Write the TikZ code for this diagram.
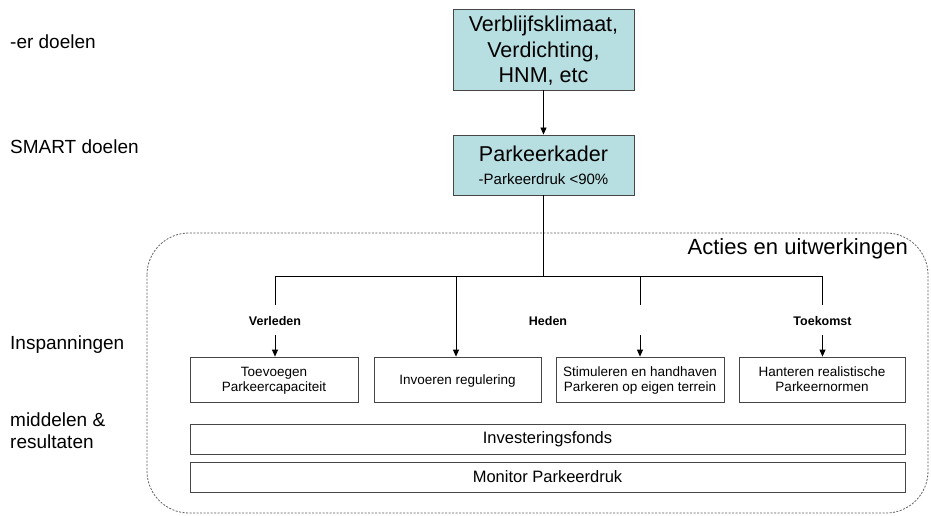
\documentclass[tikz,border=0pt]{standalone}
\usepackage{fontspec}
\setmainfont{Liberation Sans}
\usetikzlibrary{arrows.meta}
\definecolor{boxfill}{RGB}{183,222,225}
\definecolor{edge}{RGB}{70,70,70}
\definecolor{dashgray}{RGB}{95,95,95}
\begin{document}
\begin{tikzpicture}[x=1pt,y=-1pt,
 bigbox/.style={draw=edge,fill=boxfill,line width=0.9pt,inner sep=0pt,align=center,minimum width=181pt},
 smallbox/.style={draw=edge,line width=0.8pt,inner sep=0pt,align=center,minimum height=45pt,text depth=0pt,font=\fontsize{13.5}{15}\selectfont},
 widebox/.style={draw=edge,line width=0.8pt,inner sep=0pt,minimum width=715pt,minimum height=30pt,font=\fontsize{16.5}{18}\selectfont},
 lefttxt/.style={anchor=west,inner sep=0pt,align=left,font=\fontsize{19}{22}\selectfont},
 phase/.style={inner sep=0pt,font=\bfseries\fontsize{12.5}{14}\selectfont},
 conn/.style={draw=black,line width=0.8pt},
 arr/.style={conn,-{Triangle[length=7pt,width=6pt]}}
]
\useasboundingbox (0,0) rectangle (931,515);
\fill[white] (0,0) rectangle (931,515);

% dashed frame
\draw[dashgray,line width=0.8pt,dash pattern=on 2pt off 1.5pt,rounded corners=42pt] (147,233) rectangle (928,513);
\node[anchor=east,inner sep=0pt,font=\fontsize{22}{25}\selectfont] (acties) at (908,249) {Acties en uitwerkingen};

% left labels
\node[lefttxt] (l1) at (10,42) {-er doelen};
\node[lefttxt] (l2) at (10,147) {SMART doelen};
\node[lefttxt] (l3) at (10,345) {Inspanningen};
\node[lefttxt] (l4) at (10,431) {middelen \&\\resultaten};

% top boxes
\node[bigbox,minimum height=81pt,text depth=0pt,font=\fontsize{21.5}{25.5}\selectfont] (top) at (543.5,49.5) {Verblijfsklimaat,\\Verdichting,\\HNM, etc};
\node[bigbox,minimum height=60pt,font=\fontsize{15}{23}\selectfont] (park) at (543.5,165) {{\fontsize{21.5}{23}\selectfont Parkeerkader}\\{\fontsize{15}{23}\selectfont -Parkeerdruk <90\%}};

\draw[arr] (top.south) -- (park.north);

% tree
\coordinate (jc) at (543.5,276);
\coordinate (j1) at (275,276);
\coordinate (j2) at (456,276);
\coordinate (j3) at (640,276);
\coordinate (j4) at (822.5,276);
\coordinate (s1) at (275,305);
\coordinate (s3) at (640,305);
\coordinate (s4) at (822.5,305);
\coordinate (a1) at (275,335);
\coordinate (a3) at (640,335);
\coordinate (a4) at (822.5,335);

\draw[conn] (park.south) -- (jc);
\draw[conn] (j1) -- (j4);
\draw[conn] (j1) -- (s1);
\draw[conn] (j3) -- (s3);
\draw[conn] (j4) -- (s4);

\node[phase] (p1) at (275,321) {Verleden};
\node[phase] (p2) at (548,321) {Heden};
\node[phase] (p3) at (822.5,321) {Toekomst};

% action boxes
\node[smallbox,minimum width=168pt] (b1) at (274,379.5) {Toevoegen\\Parkeercapaciteit};
\node[smallbox,minimum width=167pt] (b2) at (457.5,379.5) {Invoeren regulering};
\node[smallbox,minimum width=168pt] (b3) at (640,379.5) {Stimuleren en handhaven\\Parkeren op eigen terrein};
\node[smallbox,minimum width=166pt] (b4) at (822,379.5) {Hanteren realistische\\Parkeernormen};

\draw[arr] (a1) -- (a1 |- b1.north);
\draw[arr] (j2) -- (j2 |- b2.north);
\draw[arr] (a3) -- (a3 |- b3.north);
\draw[arr] (a4) -- (a4 |- b4.north);

% wide boxes
\node[widebox] (inv) at (547.5,439) {Investeringsfonds};
\node[widebox] (mon) at (547.5,477) {Monitor Parkeerdruk};
\end{tikzpicture}
\end{document}
